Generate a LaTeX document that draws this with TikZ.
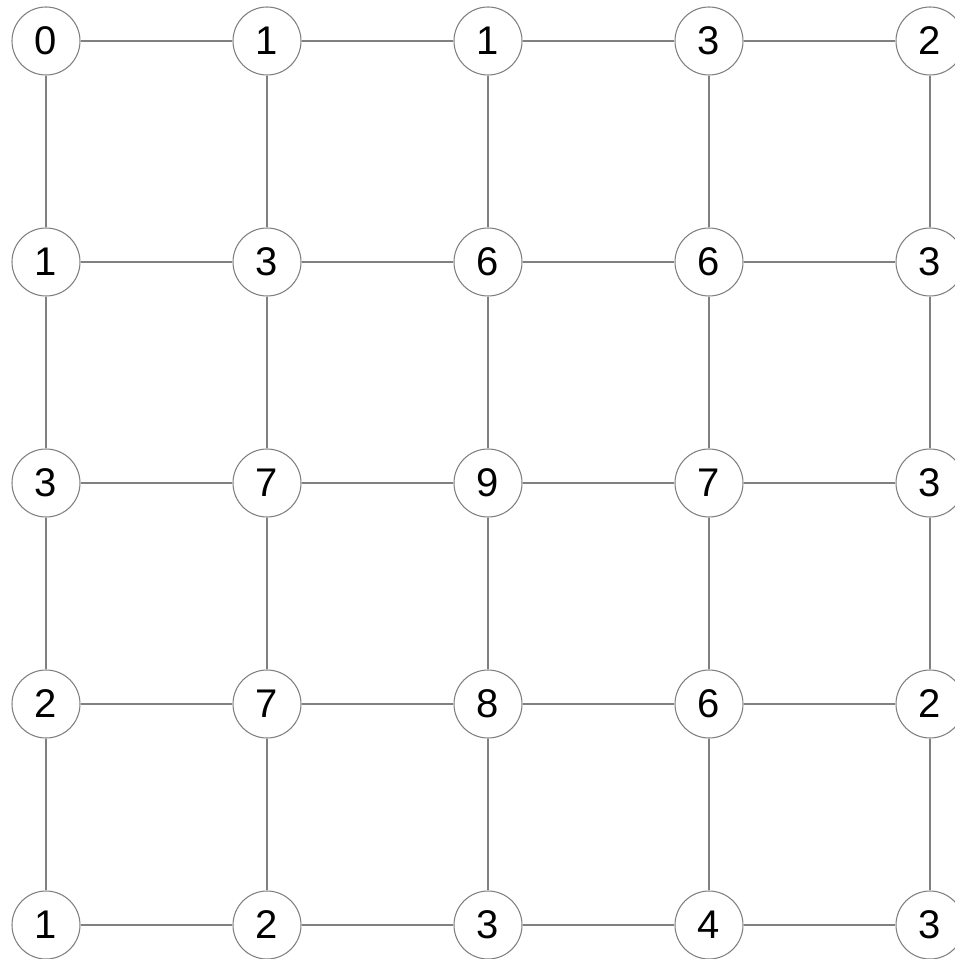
\documentclass[tikz,border=0pt]{standalone}
\usepackage{fontspec}
\setmainfont{Liberation Sans}
\usetikzlibrary{positioning}
\definecolor{edgegray}{RGB}{128,128,128}
\tikzset{
  cell/.style={circle, draw=edgegray, line width=0.8pt, fill=white,
    minimum size=51pt, inner sep=0pt, font=\fontsize{30}{32}\selectfont},
  link/.style={draw=edgegray, line width=0.8pt}
}

\begin{document}
\begin{tikzpicture}[x=0.75pt, y=-0.75pt]
            \useasboundingbox (0,0) rectangle (955,959);
            % Row 1
            \node[cell] (n11) at (46,41) {0};
            \node[cell] (n12) at (267,41) {1};
            \node[cell] (n13) at (488,41) {1};
            \node[cell] (n14) at (709,41) {3};
            \node[cell] (n15) at (930,41) {2};
            % Row 2
            \node[cell] (n21) at (46,262) {1};
            \node[cell] (n22) at (267,262) {3};
            \node[cell] (n23) at (488,262) {6};
            \node[cell] (n24) at (709,262) {6};
            \node[cell] (n25) at (930,262) {3};
            % Row 3
            \node[cell] (n31) at (46,483) {3};
            \node[cell] (n32) at (267,483) {7};
            \node[cell] (n33) at (488,483) {9};
            \node[cell] (n34) at (709,483) {7};
            \node[cell] (n35) at (930,483) {3};
            % Row 4
            \node[cell] (n41) at (46,704) {2};
            \node[cell] (n42) at (267,704) {7};
            \node[cell] (n43) at (488,704) {8};
            \node[cell] (n44) at (709,704) {6};
            \node[cell] (n45) at (930,704) {2};
            % Row 5
            \node[cell] (n51) at (46,925) {1};
            \node[cell] (n52) at (267,925) {2};
            \node[cell] (n53) at (488,925) {3};
            \node[cell] (n54) at (709,925) {4};
            \node[cell] (n55) at (930,925) {3};

            % Horizontal links
            \draw[link] (n11) -- (n12) -- (n13) -- (n14) -- (n15);
            \draw[link] (n21) -- (n22) -- (n23) -- (n24) -- (n25);
            \draw[link] (n31) -- (n32) -- (n33) -- (n34) -- (n35);
            \draw[link] (n41) -- (n42) -- (n43) -- (n44) -- (n45);
            \draw[link] (n51) -- (n52) -- (n53) -- (n54) -- (n55);

            % Vertical links
            \draw[link] (n11) -- (n21) -- (n31) -- (n41) -- (n51);
            \draw[link] (n12) -- (n22) -- (n32) -- (n42) -- (n52);
            \draw[link] (n13) -- (n23) -- (n33) -- (n43) -- (n53);
            \draw[link] (n14) -- (n24) -- (n34) -- (n44) -- (n54);
            \draw[link] (n15) -- (n25) -- (n35) -- (n45) -- (n55);
        \end{tikzpicture}
\end{document}
